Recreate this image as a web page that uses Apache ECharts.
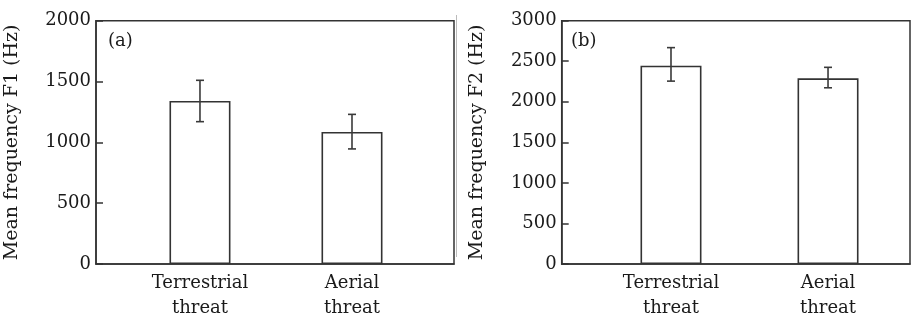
<!DOCTYPE html>
<html>
<head>
<meta charset="utf-8">
<script src="https://cdn.jsdelivr.net/npm/echarts@6/dist/echarts.min.js"></script>
<style>html,body{margin:0;padding:0;background:#fff}#c{width:911px;height:321px}</style>
</head>
<body>
<div id="c"></div>
<script>
const categories = ['Terrestrial\nthreat', 'Aerial\nthreat'];
const f1Mean = [1340, 1085];
const f1Low = [1170, 946];
const f1High = [1510, 1230];
const f2Mean = [2445, 2290];
const f2Low = [2255, 2173];
const f2High = [2668, 2425];
const f1Ticks = [0, 500, 1000, 1500, 2000];
const f2Ticks = [0, 500, 1000, 1500, 2000, 2500, 3000];
const panelLabels = ['(a)', '(b)'];
const yNames = ['Mean frequency F1 (Hz)', 'Mean frequency F2 (Hz)'];

const FONT = 'DejaVu Serif';
const INK = '#333';
const TXT = '#1a1a1a';

const chart = echarts.init(document.getElementById('c'), null, {renderer: 'canvas'});

function xAxisFor(gi, min, max) {
  return {
    type: 'value', gridIndex: gi, min: min, max: max,
    axisLine: {show: true, lineStyle: {color: INK, width: 1.5}},
    axisTick: {show: true, inside: true, length: 7, customValues: [1, 2], lineStyle: {color: INK, width: 1.5}},
    axisLabel: {customValues: [1, 2], formatter: v => categories[Math.round(v) - 1] || '',
      fontFamily: FONT, fontSize: 18, color: TXT, lineHeight: 25, margin: 7},
    splitLine: {show: false}
  };
}
function yAxisFor(gi, max, name, gap) {
  return {
    type: 'value', gridIndex: gi, min: 0, max: max, interval: 500,
    name: name, nameLocation: 'middle', nameGap: gap,
    nameTextStyle: {fontFamily: FONT, fontSize: 19, color: TXT},
    axisLine: {show: true, lineStyle: {color: INK, width: 1.5}},
    axisTick: {show: true, inside: true, length: 7, lineStyle: {color: INK, width: 1.5}},
    axisLabel: {fontFamily: FONT, fontSize: 18, color: TXT, margin: 5, formatter: v => String(v)},
    splitLine: {show: false}
  };
}
function errRender(params, api) {
  const x = api.value(0);
  const lo = api.coord([x, api.value(1)]);
  const hi = api.coord([x, api.value(2)]);
  const w = 4;
  const st = {stroke: '#3a3a3a', lineWidth: 1.6};
  return {type: 'group', children: [
    {type: 'line', shape: {x1: lo[0], y1: lo[1], x2: hi[0], y2: hi[1]}, style: st},
    {type: 'line', shape: {x1: lo[0] - w, y1: lo[1], x2: lo[0] + w, y2: lo[1]}, style: st},
    {type: 'line', shape: {x1: hi[0] - w, y1: hi[1], x2: hi[0] + w, y2: hi[1]}, style: st}
  ]};
}
function barSeries(gi, mean) {
  return {
    type: 'bar', xAxisIndex: gi, yAxisIndex: gi, barWidth: 61,
    data: mean.map((v, i) => [i + 1, v]),
    itemStyle: {color: '#fff', borderColor: INK, borderWidth: 1.6},
    silent: true, z: 2
  };
}
function errSeries(gi, lo, hi) {
  return {
    type: 'custom', xAxisIndex: gi, yAxisIndex: gi, renderItem: errRender,
    data: lo.map((v, i) => [i + 1, v, hi[i]]), z: 3, silent: true
  };
}

chart.setOption({
  animation: false,
  backgroundColor: '#fff',
  title: [
    {text: panelLabels[0], left: 103, top: 27, textStyle: {fontFamily: FONT, fontSize: 18, fontWeight: 'normal', color: TXT}},
    {text: panelLabels[1], left: 566, top: 27, textStyle: {fontFamily: FONT, fontSize: 18, fontWeight: 'normal', color: TXT}}
  ],
  grid: [
    {left: 96, right: 457, top: 20.7, bottom: 53.7, show: true, borderColor: INK, borderWidth: 1.5},
    {left: 561.7, right: 1, top: 20.7, bottom: 53.7, show: true, borderColor: INK, borderWidth: 1.5}
  ],
  xAxis: [xAxisFor(0, 0.316, 2.671), xAxisFor(1, 0.304, 2.522)],
  yAxis: [yAxisFor(0, f1Ticks[f1Ticks.length - 1], yNames[0], 74), yAxisFor(1, f2Ticks[f2Ticks.length - 1], yNames[1], 75)],
  series: [
    barSeries(0, f1Mean), errSeries(0, f1Low, f1High),
    barSeries(1, f2Mean), errSeries(1, f2Low, f2High)
  ],
  graphic: [
    {type: 'line', shape: {x1: 456.5, y1: 15, x2: 456.5, y2: 257}, style: {stroke: '#bbb', lineWidth: 1}, silent: true}
  ]
});
</script>
</body>
</html>
